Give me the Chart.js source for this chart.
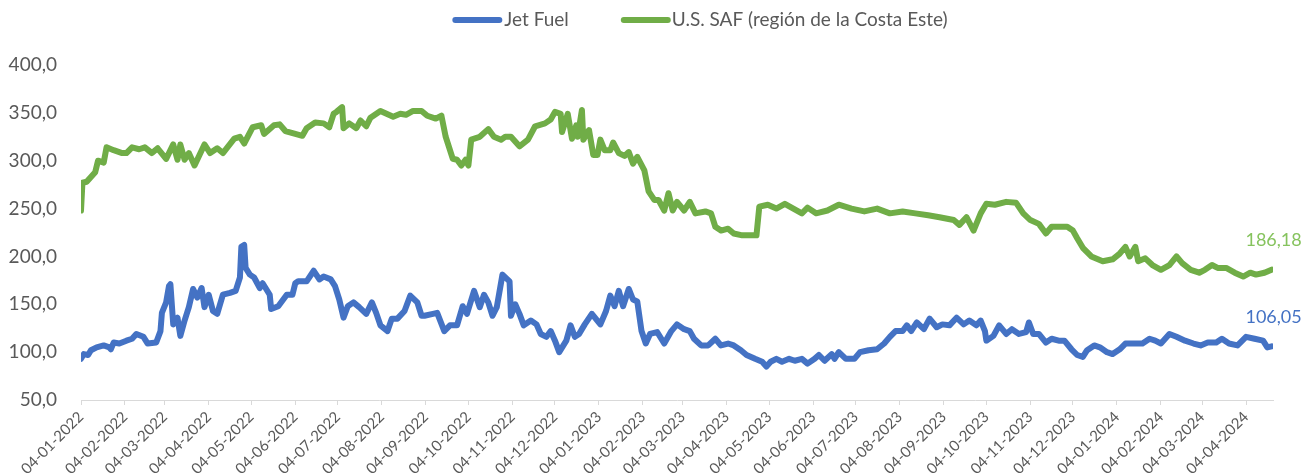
<!DOCTYPE html>
<html>
<head>
<meta charset="utf-8">
<script src="https://cdn.jsdelivr.net/npm/chart.js@4/dist/chart.umd.min.js"></script>
<style>
    body { margin: 0; background: #ffffff; }
    #wrap { width: 1311px; height: 476px; }
</style>
</head>
<body>
<div id="wrap"><canvas id="price-chart" width="1311" height="476"></canvas></div>
<script>
// x values are days counted from 04-01-2022
var tickLabels = ['04-01-2022', '04-02-2022', '04-03-2022', '04-04-2022', '04-05-2022', '04-06-2022',
    '04-07-2022', '04-08-2022', '04-09-2022', '04-10-2022', '04-11-2022', '04-12-2022',
    '04-01-2023', '04-02-2023', '04-03-2023', '04-04-2023', '04-05-2023', '04-06-2023',
    '04-07-2023', '04-08-2023', '04-09-2023', '04-10-2023', '04-11-2023', '04-12-2023',
    '04-01-2024', '04-02-2024', '04-03-2024', '04-04-2024']

var jetDays = [0,2,5,7,11,16,20,21,23,27,32,36,39,44,47,53,56,57,60,62,63,65,68,70,73,76,79,82,85,87,
    90,93,96,100,105,109,112,113,115,116,119,122,126,128,133,134,139,145,149,151,153,159,164,168,171,176,179,182,185,188,
    192,196,201,205,208,211,216,219,223,228,232,237,240,242,248,251,256,260,265,269,272,277,281,284,287,290,293,297,302,303,
    306,309,312,317,321,324,328,331,334,337,342,345,348,351,355,360,366,370,373,376,379,382,386,389,392,395,398,401,406,411,
    416,420,425,429,432,437,442,447,451,456,460,465,469,475,480,483,486,490,494,499,503,508,512,517,520,524,529,531,534,539,
    545,549,555,561,566,570,574,579,582,585,589,594,598,603,607,612,617,622,626,631,634,637,638,643,647,652,656,661,666,668,
    671,675,680,684,689,693,698,702,706,709,714,718,723,727,732,736,742,748,753,757,761,767,772,778,784,789,794,800,804,809,
    815,821,827,833,836,839]
var jetValues = [93,98,97,102,105,107,105,103,110,109,112,114,119,116,109,110,122,141,152,169,171,129,136,117,133,147,166,157,167,147,
    160,143,140,160,162,164,178,210,212,188,181,178,167,172,160,145,148,160,160,172,174,174,185,176,179,176,169,155,136,148,
    152,147,140,152,141,128,122,135,135,143,159,152,138,138,140,141,122,128,128,148,140,164,147,160,152,138,147,181,174,138,
    150,140,128,133,129,119,116,122,112,100,112,128,116,119,129,140,129,143,159,148,164,148,166,155,153,122,109,119,121,109,
    122,129,124,122,114,107,107,114,107,109,107,102,97,93,90,85,90,93,90,93,91,93,88,93,97,91,98,93,100,93,
    93,100,102,103,109,116,122,122,128,122,131,124,135,126,129,128,136,129,133,128,133,122,112,117,128,119,124,119,121,131,
    119,119,110,114,112,112,103,97,95,102,107,105,100,98,103,109,109,109,114,112,109,119,116,112,109,107,110,110,114,109,
    107,116,114,112,105,106.05]

var safDays = [0,1,4,10,12,16,18,23,29,32,36,41,45,50,54,60,65,68,70,73,76,80,87,91,96,100,108,112,115,121,
    127,129,136,140,144,151,156,159,165,171,175,178,180,184,185,189,194,197,201,204,211,220,225,229,234,240,244,250,254,257,
    262,265,268,271,273,275,281,287,291,296,299,303,309,315,320,327,331,334,338,339,343,346,349,350,353,354,358,361,364,366,
    369,373,375,379,383,386,389,392,397,400,404,407,411,414,417,420,425,429,433,440,444,447,451,456,460,466,472,476,478,484,
    490,496,502,508,512,518,526,534,543,552,561,570,579,588,597,605,615,619,624,629,634,638,644,652,659,664,669,675,680,684,
    695,699,702,706,712,720,727,732,736,739,743,745,750,755,761,767,772,776,782,788,792,797,801,807,813,819,824,828,834,839]
var safValues = [248,277,278,288,300,298,314,311,308,308,314,312,314,308,313,302,317,301,317,301,308,295,317,308,313,308,323,325,318,335,
    337,328,337,338,331,328,326,334,340,339,335,349,351,356,334,339,334,342,336,345,352,346,349,348,352,352,347,344,347,325,
    302,301,295,301,295,322,325,333,325,322,325,325,315,322,336,339,343,351,349,330,349,323,337,325,353,322,332,306,306,322,
    311,311,319,308,305,309,297,304,290,268,259,259,248,266,248,257,248,257,245,247,245,231,227,229,224,222,222,222,252,254,
    250,255,250,245,251,245,248,254,250,247,250,245,247,245,243,241,238,233,241,227,245,255,254,257,256,245,238,234,224,231,
    231,227,219,209,200,195,197,203,210,200,210,195,198,191,186,191,200,193,186,183,186,191,188,188,183,179,183,181,183,186.18]

var seriesNames = ['Jet Fuel', 'U.S. SAF (región de la Costa Este)']

var textColor = '#595959'
var fontName = 'Lato, "Open Sans", sans-serif'

function dayOf(label) {
    let p = label.split('-')
    return Math.round((Date.UTC(+p[2], +p[1] - 1, +p[0]) - Date.UTC(2022, 0, 4)) / 86400000)
}
var tickDays = tickLabels.map(dayOf)

function toPoints(days, values) {
    return days.map((d, i) => ({ x: d, y: values[i] }))
}

function commaNum(v, digits) {
    return v.toFixed(digits).replace('.', ',')
}

// legend drawn by hand so the gaps look like the original
var lineLegend = {
    id: 'lineLegend',
    afterDraw(chart) {
        const ctx = chart.ctx
        const y = 20
        const sample = 50
        ctx.save()
        ctx.font = '19px ' + fontName
        ctx.textBaseline = 'middle'
        let widths = chart.data.datasets.map(ds => ctx.measureText(ds.label).width)
        let total = sample * 2 + 2 + 1 + 52 + widths[0] + widths[1]
        let x = 700 - total / 2
        chart.data.datasets.forEach((ds, i) => {
            ctx.strokeStyle = ds.borderColor
            ctx.lineWidth = 6
            ctx.lineCap = 'round'
            ctx.beginPath()
            ctx.moveTo(x + 3, y)
            ctx.lineTo(x + sample - 3, y)
            ctx.stroke()
            x += sample + (i == 0 ? 2 : 1)
            ctx.fillStyle = textColor
            ctx.fillText(ds.label, x, y)
            x += widths[i] + 52
        })
        ctx.restore()
    }
}

var endLabels = {
    id: 'endLabels',
    afterDatasetsDraw(chart) {
        const ctx = chart.ctx
        ctx.save()
        ctx.font = '18px ' + fontName
        ctx.textAlign = 'center'
        ctx.textBaseline = 'middle'
        chart.data.datasets.forEach((ds, i) => {
            let meta = chart.getDatasetMeta(i)
            let last = meta.data[meta.data.length - 1]
            let value = ds.data[ds.data.length - 1].y
            ctx.fillStyle = ds.endLabelColor
            ctx.fillText(commaNum(value, 2), last.x + 2, last.y - 29)
        })
        ctx.restore()
    }
}

var priceChart
function setupChart() {
    const ctx = document.getElementById('price-chart').getContext('2d')
    priceChart = new Chart(ctx, {
        type: 'line',
        data: {
            datasets: [
                {
                    label: seriesNames[0],
                    data: toPoints(jetDays, jetValues),
                    borderColor: '#4472C4',
                    endLabelColor: '#4472C4',
                    borderWidth: 6,
                    pointRadius: 0,
                    tension: 0,
                    borderCapStyle: 'round',
                    borderJoinStyle: 'round',
                    fill: false
                },
                {
                    label: seriesNames[1],
                    data: toPoints(safDays, safValues),
                    borderColor: '#70AD47',
                    endLabelColor: '#86C35E',
                    borderWidth: 6,
                    pointRadius: 0,
                    tension: 0,
                    borderCapStyle: 'round',
                    borderJoinStyle: 'round',
                    fill: false
                }
            ]
        },
        options: {
            responsive: false,
            animation: false,
            devicePixelRatio: 1,
            layout: { padding: { top: 65, right: 38, bottom: 0, left: 0 } },
            plugins: {
                legend: { display: false },
                tooltip: { enabled: false }
            },
            scales: {
                x: {
                    type: 'linear',
                    min: 0,
                    max: 840,
                    afterFit: (s) => { s.height = 76 },
                    afterBuildTicks: (s) => { s.ticks = tickDays.map(d => ({ value: d })) },
                    grid: {
                        display: true,
                        drawOnChartArea: false,
                        drawTicks: true,
                        tickLength: 5,
                        color: '#d9d9d9'
                    },
                    border: { display: true, color: '#d9d9d9', width: 1 },
                    ticks: {
                        autoSkip: false,
                        minRotation: 45,
                        maxRotation: 45,
                        padding: 3,
                        color: textColor,
                        font: { family: fontName, size: 15 },
                        callback: (value) => tickLabels[tickDays.indexOf(value)]
                    }
                },
                y: {
                    min: 50,
                    max: 400,
                    afterFit: (s) => { s.width = 81 },
                    grid: { display: false, drawTicks: false },
                    border: { display: false },
                    ticks: {
                        stepSize: 50,
                        padding: 24,
                        color: textColor,
                        font: { family: fontName, size: 19 },
                        callback: (value) => commaNum(value, 1)
                    }
                }
            }
        },
        plugins: [lineLegend, endLabels]
    })
}

setupChart()
</script>
</body>
</html>
